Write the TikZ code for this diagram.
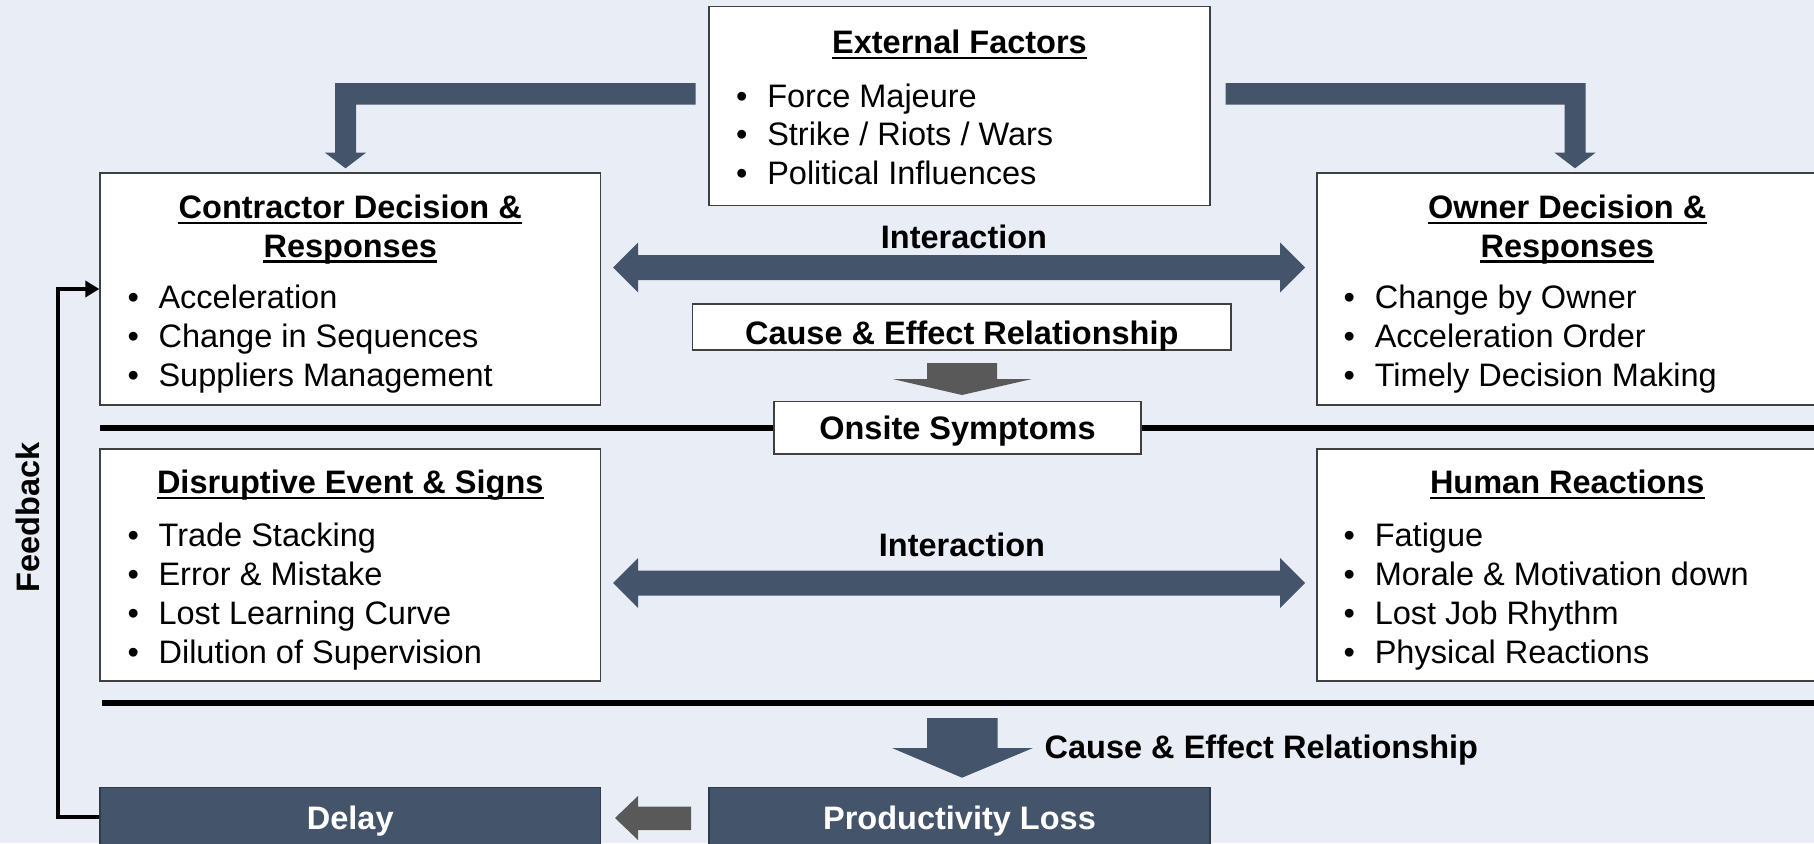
\documentclass[tikz,border=0pt]{standalone}
\usepackage{fontspec}
\setmainfont{Liberation Sans}
\usetikzlibrary{arrows.meta,calc}

\definecolor{bg}{HTML}{E9EEF6}
\definecolor{slate}{HTML}{44546A}
\definecolor{slateedge}{HTML}{2F3A4A}
\definecolor{greyarrow}{HTML}{595959}
\definecolor{frame}{HTML}{404040}

\tikzset{
  panel/.style={draw=frame, line width=1.3pt, fill=white, inner sep=0pt},
  darkpanel/.style={draw=slateedge, line width=1.3pt, fill=slate, inner sep=0pt},
  txt/.style={inner sep=0pt, anchor=base, font=\fontsize{32.5pt}{38.5pt}\selectfont},
  hd/.style={txt, font=\fontsize{32.5pt}{38.5pt}\selectfont\bfseries},
  item/.style={txt, anchor=base west},
  rule/.style={line width=6pt, draw=black},
  uline/.style={line width=2.3pt},
  blockarrow/.style={fill=slate},
  greyblock/.style={fill=greyarrow},
  feedback/.style={line width=4pt, -{Triangle[length=14pt,width=16pt]}},
}

% underline drawn below the baseline of a heading node
\newcommand{\headrule}[1]{\draw[uline] ([yshift=-4.5pt]#1.base west) -- ([yshift=-4.5pt]#1.base east);}
% one bulleted line
\newcommand{\bul}[1]{\makebox[31.1pt][l]{\textbullet}#1}

\begin{document}
\begin{tikzpicture}[x=1pt,y=-1pt]
\useasboundingbox (0,0) rectangle (1814,843);
\fill[bg] (0,0) rectangle (1814,843);

% horizontal separators
\draw[rule] (100,427.7) -- (1830,427.7);
\draw[rule] (102,702.7) -- (1830,702.7);

% elbow arrows from the external factors
\fill[blockarrow] (695.6,83) -- (335,83) -- (335,152.7) -- (325,152.7) -- (345.5,168.3)
  -- (366,152.7) -- (356,152.7) -- (356,104.5) -- (695.6,104.5) -- cycle;
\fill[blockarrow] (1225.7,83) -- (1585.5,83) -- (1585.5,152.7) -- (1595.5,152.7) -- (1575,168.3)
  -- (1554.5,152.7) -- (1564.5,152.7) -- (1564.5,104.5) -- (1225.7,104.5) -- cycle;

% interaction double arrows
\fill[blockarrow] (613,267.5) -- (638,242.5) -- (638,255) -- (1280,255) -- (1280,242.5)
  -- (1305,267.5) -- (1280,292.5) -- (1280,280) -- (638,280) -- (638,292.5) -- cycle;
\fill[blockarrow] (613,583) -- (638,558) -- (638,570.5) -- (1280,570.5) -- (1280,558)
  -- (1305,583) -- (1280,608) -- (1280,595.5) -- (638,595.5) -- (638,608) -- cycle;

% cause and effect arrows
\fill[greyblock] (927,363) -- (997,363) -- (997,379) -- (1032,379) -- (962,395)
  -- (892.5,379) -- (927,379) -- cycle;
\fill[blockarrow] (927,718) -- (997.5,718) -- (997.5,748) -- (1033,748) -- (962,777.7)
  -- (892,748) -- (927,748) -- cycle;
\fill[greyblock] (691,806.7) -- (638,806.7) -- (638,796) -- (615,818) -- (638,840)
  -- (638,830) -- (691,830) -- cycle;

% panels
\node[panel, minimum width=501pt, minimum height=199pt] (ext) at (959.5,106.2) {};
\node[panel, minimum width=500.5pt, minimum height=232pt] (contractor) at (350.25,289) {};
\node[panel, minimum width=500.5pt, minimum height=232pt] (owner) at (1567.25,289) {};
\node[panel, minimum width=500.5pt, minimum height=232pt] (disrupt) at (350.25,565) {};
\node[panel, minimum width=500.5pt, minimum height=232pt] (human) at (1567.25,565) {};
\node[panel, minimum width=538.5pt, minimum height=46pt] (cause) at (961.75,327) {};
\node[panel, minimum width=367pt, minimum height=52.3pt] (onsite) at (957.5,427.85) {};
\node[darkpanel, minimum width=500.5pt, minimum height=58.3pt] (delay) at (350.25,816.85) {};
\node[darkpanel, minimum width=501pt, minimum height=58.3pt] (prod) at (959.5,816.85) {};

% feedback loop
\draw[feedback] (delay.west) -- ++(-41,0) |- (contractor.west);
\node[hd, rotate=90] (fb) at (39,517.5) {Feedback};

\begin{scope}[yshift=-1.5pt]
% external factors
\node[hd] (ext-t) at (959.5,52.3) {External Factors}; \headrule{ext-t}
\node[item] (ext-1) at (736,106) {\bul{Force Majeure}};
\node[item] (ext-2) at (736,144.3) {\bul{Strike / Riots / Wars}};
\node[item] (ext-3) at (736,182.7) {\bul{Political Influences}};

% contractor
\node[hd] (con-t1) at (350.25,216.7) {Contractor Decision \&}; \headrule{con-t1}
\node[hd] (con-t2) at (350.25,255.5) {Responses}; \headrule{con-t2}
\node[item] (con-1) at (127.3,307.3) {\bul{Acceleration}};
\node[item] (con-2) at (127.3,346.3) {\bul{Change in Sequences}};
\node[item] (con-3) at (127.3,385) {\bul{Suppliers Management}};

% owner
\node[hd] (own-t1) at (1567.25,216.7) {Owner Decision \&}; \headrule{own-t1}
\node[hd] (own-t2) at (1567.25,255.5) {Responses}; \headrule{own-t2}
\node[item] (own-1) at (1343.5,307.3) {\bul{Change by Owner}};
\node[item] (own-2) at (1343.5,346.3) {\bul{Acceleration Order}};
\node[item] (own-3) at (1343.5,385) {\bul{Timely Decision Making}};

% middle labels
\node[hd] (int-top) at (964,246.7) {Interaction};
\node[hd] (cause-t) at (961.75,343.3) {Cause \& Effect Relationship};
\node[hd] (onsite-t) at (957.5,438.3) {Onsite Symptoms};
\node[hd] (int-bot) at (962,555) {Interaction};

% disruptive events
\node[hd] (dis-t) at (350.25,492) {Disruptive Event \& Signs}; \headrule{dis-t}
\node[item] (dis-1) at (127.3,545) {\bul{Trade Stacking}};
\node[item] (dis-2) at (127.3,584) {\bul{Error \& Mistake}};
\node[item] (dis-3) at (127.3,623) {\bul{Lost Learning Curve}};
\node[item] (dis-4) at (127.3,661.7) {\bul{Dilution of Supervision}};

% human reactions
\node[hd] (hum-t) at (1567.25,492) {Human Reactions}; \headrule{hum-t}
\node[item] (hum-1) at (1343.5,545) {\bul{Fatigue}};
\node[item] (hum-2) at (1343.5,584) {\bul{Morale \& Motivation down}};
\node[item] (hum-3) at (1343.5,623) {\bul{Lost Job Rhythm}};
\node[item] (hum-4) at (1343.5,661.7) {\bul{Physical Reactions}};

% bottom row
\node[hd, anchor=base west] (cause-b) at (1044.5,757.3) {Cause \& Effect Relationship};
\node[hd, text=white] (delay-t) at (350.25,828.3) {Delay};
\node[hd, text=white] (prod-t) at (959.5,828.3) {Productivity Loss};
\end{scope}
\end{tikzpicture}
\end{document}
